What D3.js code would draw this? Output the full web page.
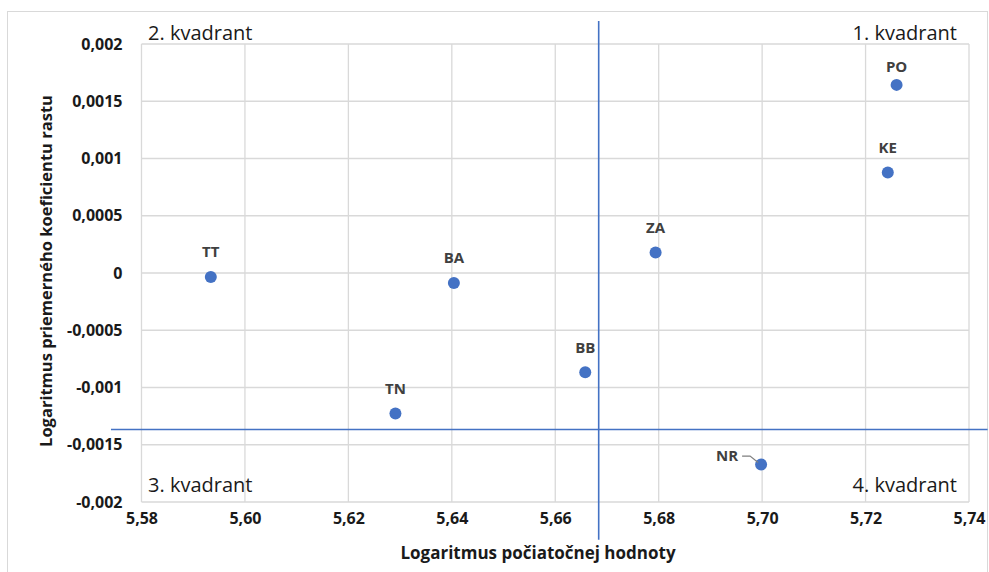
<!DOCTYPE html>
<html>
<head>
<meta charset="utf-8">
<script src="https://cdn.jsdelivr.net/npm/d3@7"></script>
<style>
    body { margin: 0; background: #fff; }
    svg { display: block; font-family: "Open Sans", "Noto Sans", sans-serif; }
</style>
</head>
<body>
<svg id="drawing_region"></svg>
<script>
// regions (kraje) and their values
const regions = ['PO', 'KE', 'ZA', 'BB', 'NR', 'TT', 'BA', 'TN'];
const logStart = [5.7260, 5.7243, 5.6794, 5.6658, 5.6998, 5.5934, 5.6404, 5.6291];
const logGrowth = [0.001643, 0.000878, 0.000180, -0.000867, -0.001673, -0.000035, -0.000087, -0.001228];

// quadrant dividers (averages) and how far the lines run
const meanStart = 5.6684;
const meanGrowth = -0.001367;
const vLineRange = [-0.00233, 0.00220];
const hLineRange = [5.5741, 5.7436];

const xTicks = [5.58, 5.60, 5.62, 5.64, 5.66, 5.68, 5.70, 5.72, 5.74];
const yTicks = [-0.002, -0.0015, -0.001, -0.0005, 0, 0.0005, 0.001, 0.0015, 0.002];
const quadrantLabels = ['1. kvadrant', '2. kvadrant', '3. kvadrant', '4. kvadrant'];
const xTitle = 'Logaritmus počiatočnej hodnoty';
const yTitle = 'Logaritmus priemerného koeficientu rastu';

const config = {
    width: 989,
    height: 572,
    margin: {top: 44, right: 20, bottom: 70, left: 141.5},
};

const locale = d3.formatLocale({decimal: ',', thousands: ' ', grouping: [3], currency: ['', ''], minus: '-'});

const svg = d3.select('#drawing_region')
    .attr('width', config.width)
    .attr('height', config.height);

// outer chart border
svg.append('rect')
    .attr('x', 7.5).attr('y', 11.5)
    .attr('width', 980).attr('height', 600)
    .attr('fill', 'none')
    .attr('stroke', '#d9d9d9');

const chart = svg.append('g')
    .attr('transform', `translate(${config.margin.left}, ${config.margin.top})`);

const inner_width = config.width - config.margin.left - config.margin.right;
const inner_height = config.height - config.margin.top - config.margin.bottom;

const xscale = d3.scaleLinear().domain([5.58, 5.74]).range([0, inner_width]);
const yscale = d3.scaleLinear().domain([-0.002, 0.002]).range([inner_height, 0]);

// grid
chart.append('g').selectAll('line').data(xTicks).join('line')
    .attr('x1', d => xscale(d)).attr('x2', d => xscale(d))
    .attr('y1', 0).attr('y2', inner_height)
    .attr('stroke', '#d9d9d9').attr('stroke-width', 1.3);
chart.append('g').selectAll('line').data(yTicks).join('line')
    .attr('x1', 0).attr('x2', inner_width)
    .attr('y1', d => yscale(d)).attr('y2', d => yscale(d))
    .attr('stroke', '#d9d9d9').attr('stroke-width', 1.3);

// axes
const xaxis = d3.axisBottom(xscale)
    .tickValues(xTicks)
    .tickFormat(locale.format('.2f'))
    .tickSize(0)
    .tickPadding(11);
const yaxis = d3.axisLeft(yscale)
    .tickValues(yTicks)
    .tickFormat(locale.format('~f'))
    .tickSize(0)
    .tickPadding(19);

const xaxis_group = chart.append('g')
    .attr('transform', `translate(0, ${inner_height})`)
    .call(xaxis);
const yaxis_group = chart.append('g').call(yaxis);

[xaxis_group, yaxis_group].forEach(g => {
    g.select('.domain').remove();
    g.selectAll('text')
        .attr('font-family', '"Open Sans", sans-serif')
        .attr('font-size', 16)
        .attr('font-weight', 'bold')
        .attr('fill', '#1a1a1a');
});

// quadrant divider lines
chart.append('line')
    .attr('x1', xscale(meanStart)).attr('x2', xscale(meanStart))
    .attr('y1', yscale(vLineRange[1])).attr('y2', yscale(vLineRange[0]))
    .attr('stroke', '#4472c4').attr('stroke-width', 1.6);
chart.append('line')
    .attr('x1', xscale(hLineRange[0])).attr('x2', xscale(hLineRange[1]))
    .attr('y1', yscale(meanGrowth)).attr('y2', yscale(meanGrowth))
    .attr('stroke', '#4472c4').attr('stroke-width', 1.6);

// quadrant labels
const qpos = [
    {x: inner_width - 12, y: -4, anchor: 'end'},
    {x: 6.5, y: -4, anchor: 'start'},
    {x: 6.5, y: inner_height - 10, anchor: 'start'},
    {x: inner_width - 12, y: inner_height - 10, anchor: 'end'},
];
chart.append('g').selectAll('text').data(quadrantLabels).join('text')
    .attr('x', (d, i) => qpos[i].x)
    .attr('y', (d, i) => qpos[i].y)
    .attr('text-anchor', (d, i) => qpos[i].anchor)
    .attr('font-size', 20)
    .attr('fill', '#1a1a1a')
    .text(d => d);

const points = regions.map((r, i) => ({label: r, x: logStart[i], y: logGrowth[i]}));

// points
chart.append('g').selectAll('circle').data(points).join('circle')
    .attr('cx', d => xscale(d.x))
    .attr('cy', d => yscale(d.y))
    .attr('r', 6)
    .attr('fill', '#4472c4');

// data labels
const labelShift = {PO: -18};
chart.append('g').selectAll('text').data(points.filter(d => d.label !== 'NR')).join('text')
    .attr('x', d => xscale(d.x))
    .attr('y', d => yscale(d.y) + (labelShift[d.label] || -25))
    .attr('dy', '0.35em')
    .attr('text-anchor', 'middle')
    .attr('font-size', 15)
    .attr('font-weight', 'bold')
    .attr('fill', '#404040')
    .text(d => d.label);

// NR label sits left of its point with a leader line
const nr = points.find(d => d.label === 'NR');
const nx = xscale(nr.x), ny = yscale(nr.y);
chart.append('path')
    .attr('d', `M${nx - 19},${ny - 8.5}H${nx - 11}L${nx - 3},${ny - 2}`)
    .attr('fill', 'none')
    .attr('stroke', '#7f7f7f')
    .attr('stroke-width', 1.2);
chart.append('text')
    .attr('x', nx - 23)
    .attr('y', ny - 8.5)
    .attr('dy', '0.35em')
    .attr('text-anchor', 'end')
    .attr('font-size', 15)
    .attr('font-weight', 'bold')
    .attr('fill', '#404040')
    .text(nr.label);

// axis titles
svg.append('text')
    .attr('x', 538)
    .attr('y', 559)
    .attr('text-anchor', 'middle')
    .attr('font-size', 17)
    .attr('font-weight', 'bold')
    .attr('fill', '#1a1a1a')
    .text(xTitle);

svg.append('text')
    .attr('transform', 'translate(52, 271) rotate(-90)')
    .attr('text-anchor', 'middle')
    .attr('font-size', 16.5)
    .attr('font-weight', 'bold')
    .attr('fill', '#1a1a1a')
    .text(yTitle);
</script>
</body>
</html>
